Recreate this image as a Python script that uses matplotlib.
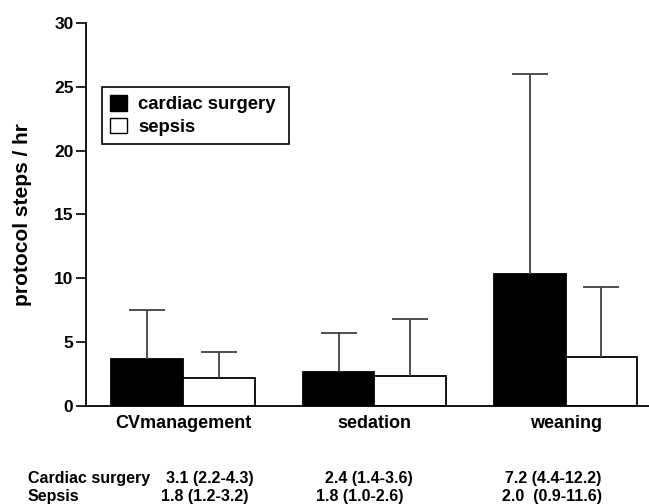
import numpy as np
import matplotlib
matplotlib.use('Agg')
import matplotlib.pyplot as plt
import matplotlib.patches as mpatches

plt.rcParams['font.family'] = ['Liberation Sans', 'DejaVu Sans']
plt.rcParams['font.weight'] = 'bold'

CATEGORIES = ['CVmanagement', 'sedation', 'weaning']
CARDIAC = [3.65, 2.62, 10.3]
CARDIAC_ERR = [3.85, 3.08, 15.7]
SEPSIS = [2.13, 2.31, 3.82]
SEPSIS_ERR = [2.08, 4.49, 5.48]

ROW_LABELS = ['Cardiac surgery', 'Sepsis']
CARDIAC_TXT = ['3.1 (2.2-4.3)', '2.4 (1.4-3.6)', '7.2 (4.4-12.2)']
SEPSIS_TXT = ['1.8 (1.2-3.2)', '1.8 (1.0-2.6)', '2.0  (0.9-11.6)']

W, H = 649, 504
fig = plt.figure(figsize=(W / 100, H / 100), dpi=100)
ax = fig.add_axes([86 / W, 1 - 405.5 / H, 1 - 86 / W, (405.5 - 23) / H])

x = np.arange(len(CATEGORIES))
bw = 0.375
zeros = np.zeros(len(x))
b1 = ax.bar(x - bw / 2, CARDIAC, width=bw, color='black', edgecolor='black', linewidth=1.3,
            yerr=[zeros, CARDIAC_ERR], ecolor='#404040', capsize=13,
            error_kw=dict(elinewidth=1.3, capthick=1.3), zorder=2)
b2 = ax.bar(x + bw / 2, SEPSIS, width=bw, color='white', edgecolor='black', linewidth=1.3,
            yerr=[zeros, SEPSIS_ERR], ecolor='#404040', capsize=13,
            error_kw=dict(elinewidth=1.3, capthick=1.3), zorder=2)
# only the upper caps are drawn in the original
for b in (b1, b2):
    caps = b.errorbar.lines[1]
    caps[0].set_visible(False)

ax.set_xlim(-0.508, 2.436)
ax.set_ylim(0, 30)
ax.set_yticks([0, 5, 10, 15, 20, 25, 30])
ax.set_xticks(x)
ax.set_xticklabels(CATEGORIES, fontsize=13, fontweight='bold')
ax.tick_params(axis='x', length=0, pad=7)
ax.tick_params(axis='y', length=7, width=1.2, labelsize=12.5, pad=2)
for s in ['top', 'right']:
    ax.spines[s].set_visible(False)
for s in ['left', 'bottom']:
    ax.spines[s].set_linewidth(1.3)
ax.set_ylabel('protocol steps / hr', fontsize=15, fontweight='bold', labelpad=16)

black = mpatches.Patch(facecolor='black', edgecolor='black', label='cardiac surgery')
white = mpatches.Patch(facecolor='white', edgecolor='black', label='sepsis')
leg = ax.legend(handles=[black, white], loc='upper left', mode='expand',
                bbox_to_anchor=(102 / W, 1 - 143 / H, 187 / W, 56 / H),
                bbox_transform=fig.transFigure,
                fancybox=False, framealpha=1, edgecolor='black', borderaxespad=0,
                prop=dict(size=13.3, weight='bold'), handlelength=0.9, handleheight=0.9,
                handletextpad=0.6, labelspacing=0.25, borderpad=0.45)
leg.get_frame().set_linewidth(1.2)

# summary table under the chart
row_y = [478, 497]
fig.text(28 / W, 1 - row_y[0] / H, ROW_LABELS[0], fontsize=11.5, fontweight='bold', va='center')
fig.text(28 / W, 1 - row_y[1] / H, ROW_LABELS[1], fontsize=11.5, fontweight='bold', va='center')
row1_x = [210, 369, 553]
row2_x = [205, 360, 552]
for i in range(len(CATEGORIES)):
    fig.text(row1_x[i] / W, 1 - row_y[0] / H, CARDIAC_TXT[i], fontsize=11.5,
             fontweight='bold', ha='center', va='center')
    fig.text(row2_x[i] / W, 1 - row_y[1] / H, SEPSIS_TXT[i], fontsize=11.5,
             fontweight='bold', ha='center', va='center')

fig.savefig('out.png', dpi=100)
